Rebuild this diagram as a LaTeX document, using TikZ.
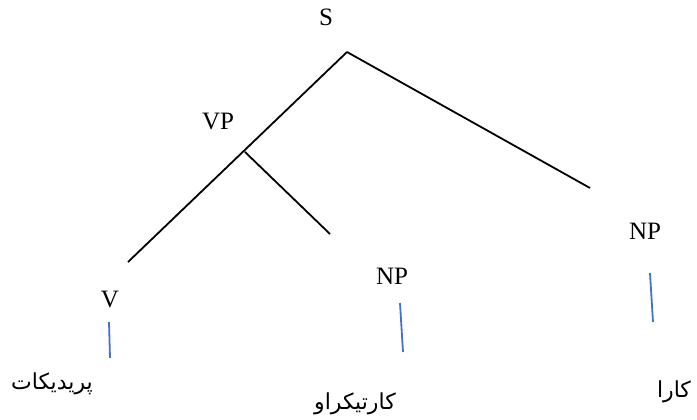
\documentclass[tikz,border=0pt]{standalone}
\usepackage{fontspec}
\setmainfont{Liberation Serif}
\newfontfamily\arabicfont[Script=Arabic]{DejaVu Sans}
\TeXXeTstate=1
\definecolor{leafblue}{RGB}{68,114,196}

\begin{document}
\begin{tikzpicture}[x=1pt, y=-1pt, line width=1.8pt, cat/.style={font=\fontsize{25}{28}\selectfont, inner sep=0pt}, word/.style={font=\arabicfont\fontsize{22}{26}\selectfont, inner sep=0pt}, leaf/.style={draw=leafblue, line width=1.8pt}]
        \useasboundingbox (0,0) rectangle (697,420);

        \node[cat] (S) at (326,17) {S};
        \node[cat] (VP) at (218,122) {VP};
        \node[cat] (V) at (110,300) {V};
        \node[cat] (NP1) at (392,276) {NP};
        \node[cat] (NP2) at (645,231) {NP};

        \node[word] (pred) at (52,384) {\beginR پریدیکات\endR};
        \node[word] (patient) at (355,404) {\beginR کارتیکراو\endR};
        \node[word] (agent) at (674,392) {\beginR کارا\endR};

        \coordinate (s-root) at (347,52);
        \coordinate (vp-root) at (245,152);
        \coordinate (v-end) at (128,262);
        \coordinate (np1-end) at (330,234);
        \coordinate (np2-end) at (590,188);

        \coordinate (v-a) at (109,322);
        \coordinate (v-b) at (110,358);
        \coordinate (np1-a) at (400,303);
        \coordinate (np1-b) at (403,352);
        \coordinate (np2-a) at (650,273);
        \coordinate (np2-b) at (653,322);

        \draw (s-root) -- (v-end)
              (s-root) -- (np2-end)
              (vp-root) -- (np1-end);

        \path[leaf] (v-a) edge (v-b)
                    (np1-a) edge (np1-b)
                    (np2-a) edge (np2-b);
    \end{tikzpicture}
\end{document}
